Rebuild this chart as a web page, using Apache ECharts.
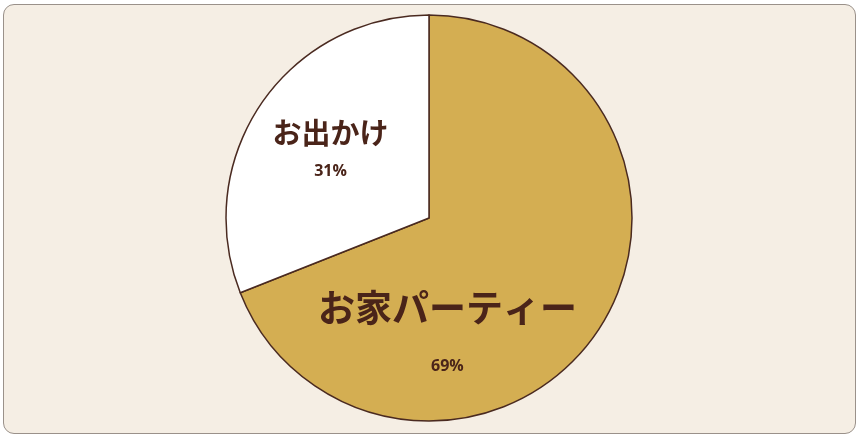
<!DOCTYPE html>
<html>
<head>
<meta charset="utf-8">
<script src="https://cdn.jsdelivr.net/npm/echarts@6/dist/echarts.min.js"></script>
<style>
  html, body { margin: 0; padding: 0; background: #ffffff; }
  #frame {
    position: absolute; left: 3px; top: 4px; width: 851px; height: 428px;
    background: #f5eee4; border: 1px solid #9a918a; border-radius: 11px;
  }
  #main { position: absolute; left: 0; top: 0; width: 860px; height: 439px; }
</style>
</head>
<body>
<div id="frame"></div>
<div id="main"></div>
<script>
// データ
const categories = ['お家パーティー', 'お出かけ'];
const values = [69, 31];
const colors = ['#d4ae52', '#ffffff'];

const chart = echarts.init(document.getElementById('main'));

// ラベルの位置と大きさ（スライスごと）
const labelStyles = [
  { offset: [-68, 65], nameSize: 37, pctSize: 16, nameLH: 50, pctLH: 68 },
  { offset: [-12, -8], nameSize: 29, pctSize: 16, nameLH: 40, pctLH: 36 }
];

const pieData = categories.map(function (name, i) {
  const s = labelStyles[i];
  return {
    name: name,
    value: values[i],
    itemStyle: { color: colors[i] },
    label: {
      offset: s.offset,
      rich: {
        n: { fontSize: s.nameSize, fontWeight: 'bold', color: '#4a2419', lineHeight: s.nameLH,
             fontFamily: 'Noto Sans CJK JP' },
        p: { fontSize: s.pctSize, fontWeight: 'bold', color: '#4a2419', lineHeight: s.pctLH,
             fontFamily: 'Open Sans' }
      }
    }
  };
});

const option = {
  animation: false,
  series: [{
    type: 'pie',
    center: [429, 218],
    radius: 203,
    startAngle: 90,
    clockwise: true,
    itemStyle: { borderColor: '#4a2a20', borderWidth: 1.5 },
    label: {
      show: true,
      position: 'inside',
      formatter: '{n|{b}}\n{p|{d}%}'
    },
    labelLine: { show: false },
    data: pieData
  }]
};

chart.setOption(option);
</script>
</body>
</html>
